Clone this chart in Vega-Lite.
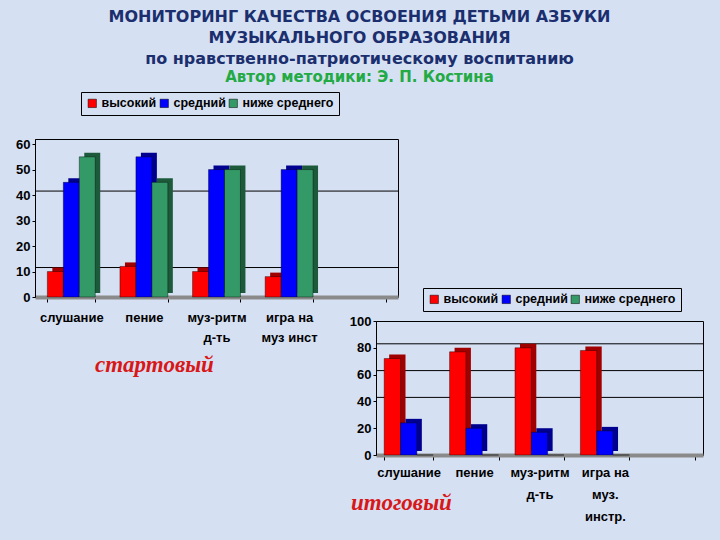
{
  "$schema": "https://vega.github.io/schema/vega-lite/v6.json",
  "background": "#d6e0f3",
  "padding": {"left": 15, "top": 9, "right": 22, "bottom": 22},
  "config": {
    "view": {"stroke": null},
    "font": "Liberation Sans",
    "axis": {"labelFont": "Liberation Sans", "labelFontWeight": "bold", "labelFontSize": 13, "labelColor": "#000", "domainColor": "#000", "tickColor": "#000", "title": null},
    "axisY": {"grid": false, "tickSize": 3, "labelPadding": 2},
    "axisX": {"labelAngle": 0, "tickBand": "extent", "tickSize": 5, "labelPadding": 6, "domainColor": "#8a8a8a", "domainWidth": 4},
    "legend": {"title": null, "orient": "none", "direction": "horizontal", "strokeColor": "#000", "padding": 5, "symbolType": "square", "symbolSize": 70, "symbolStrokeColor": "#000", "symbolStrokeWidth": 0.5, "labelFont": "Liberation Sans", "labelFontWeight": "bold", "labelFontSize": 12.5, "labelColor": "#000", "labelOffset": 3, "columnPadding": 1}
  },
  "title": {
    "text": ["МОНИТОРИНГ КАЧЕСТВА ОСВОЕНИЯ ДЕТЬМИ АЗБУКИ", "МУЗЫКАЛЬНОГО ОБРАЗОВАНИЯ", "по нравственно-патриотическому воспитанию"],
    "subtitle": "Автор методики: Э. П. Костина",
    "font": "DejaVu Sans", "fontSize": 16, "fontWeight": "bold", "color": "#1b2f6e", "lineHeight": 21,
    "subtitleFont": "DejaVu Sans", "subtitleFontSize": 15, "subtitleFontWeight": "bold", "subtitleColor": "#22aa44", "subtitlePadding": 3,
    "anchor": "middle", "frame": "bounds", "offset": 6
  },
  "datasets": {
    "start": [
      {"activity": "слушание", "level": "высокий", "value": 10},
      {"activity": "слушание", "level": "средний", "value": 45},
      {"activity": "слушание", "level": "ниже среднего", "value": 55},
      {"activity": "пение", "level": "высокий", "value": 12},
      {"activity": "пение", "level": "средний", "value": 55},
      {"activity": "пение", "level": "ниже среднего", "value": 45},
      {"activity": "муз-ритм д-ть", "level": "высокий", "value": 10},
      {"activity": "муз-ритм д-ть", "level": "средний", "value": 50},
      {"activity": "муз-ритм д-ть", "level": "ниже среднего", "value": 50},
      {"activity": "игра на муз инст", "level": "высокий", "value": 8},
      {"activity": "игра на муз инст", "level": "средний", "value": 50},
      {"activity": "игра на муз инст", "level": "ниже среднего", "value": 50}
    ],
    "final": [
      {"activity": "слушание", "level": "высокий", "value": 72},
      {"activity": "слушание", "level": "средний", "value": 24},
      {"activity": "слушание", "level": "ниже среднего", "value": 0},
      {"activity": "пение", "level": "высокий", "value": 77},
      {"activity": "пение", "level": "средний", "value": 20},
      {"activity": "пение", "level": "ниже среднего", "value": 0},
      {"activity": "муз-ритм д-ть", "level": "высокий", "value": 80},
      {"activity": "муз-ритм д-ть", "level": "средний", "value": 17},
      {"activity": "муз-ритм д-ть", "level": "ниже среднего", "value": 0},
      {"activity": "игра на муз. инстр.", "level": "высокий", "value": 78},
      {"activity": "игра на муз. инстр.", "level": "средний", "value": 18},
      {"activity": "игра на муз. инстр.", "level": "ниже среднего", "value": 0}
    ],
    "grid1": [{"g": 10}, {"g": 40}],
    "grid2": [{"g": 40}, {"g": 60}, {"g": 80}]
  },
  "vconcat": [
    {
      "width": 363,
      "height": 158,
      "view": {"stroke": "#000", "strokeWidth": 1},
      "title": {"text": "стартовый", "orient": "bottom", "anchor": "start", "frame": "group", "dx": 60, "offset": 10, "font": "Liberation Serif", "fontStyle": "italic", "fontWeight": "bold", "fontSize": 23, "color": "#d81818"},
      "layer": [
        {
          "data": {"name": "grid1"},
          "mark": {"type": "rule", "color": "#000", "strokeWidth": 1, "yOffset": -4},
          "encoding": {"y": {"field": "g", "type": "quantitative", "scale": {"domain": [0, 62], "nice": false}, "axis": {"values": [0, 10, 20, 30, 40, 50, 60]}}}
        },
        {
          "data": {"name": "start"},
          "mark": {"type": "bar", "yOffset": -4},
          "encoding": {
            "x": {"field": "activity", "type": "nominal", "sort": null},
            "xOffset": {"field": "level", "type": "nominal", "sort": null, "scale": {"domain": ["высокий", "средний", "ниже среднего"], "range": [5, 52.9]}},
            "y": {"field": "value", "type": "quantitative", "axis": {"values": [0, 10, 20, 30, 40, 50, 60]}},
            "color": {"field": "level", "type": "nominal", "scale": {"domain": ["высокий", "средний", "ниже среднего"], "range": ["#a00000", "#000090", "#1d5a3b"]}, "legend": null}
          }
        },
        {
          "data": {"name": "start"},
          "mark": {"type": "bar", "stroke": "#000", "strokeWidth": 0.4},
          "encoding": {
            "x": {"field": "activity", "type": "nominal",
              "scale": {"domain": ["слушание", "пение", "муз-ритм д-ть", "игра на муз инст", " "], "paddingInner": 0.34, "paddingOuter": 0.17},
              "sort": null,
              "axis": {"labelLineHeight": 20, "labelPadding": 9,
                "labelExpr": "datum.value == 'муз-ритм д-ть' ? ['муз-ритм', 'д-ть'] : datum.value == 'игра на муз инст' ? ['игра на', 'муз инст'] : datum.value"}},
            "xOffset": {"field": "level", "type": "nominal", "sort": null, "scale": {"domain": ["высокий", "средний", "ниже среднего"]}},
            "y": {"field": "value", "type": "quantitative", "scale": {"domain": [0, 62], "nice": false},
              "axis": {"values": [0, 10, 20, 30, 40, 50, 60]}},
            "color": {"field": "level", "type": "nominal",
              "scale": {"domain": ["высокий", "средний", "ниже среднего"], "range": ["#ff0000", "#0000ff", "#339966"]},
              "legend": {"legendX": 46, "legendY": -47}}
          }
        }
      ],
      "resolve": {"scale": {"color": "independent", "xOffset": "independent"}}
    },
    {
      "hconcat": [
        {
          "width": 341,
          "height": 10,
          "data": {"values": []},
          "mark": {"type": "point", "opacity": 0},
          "view": {"stroke": null}
        },
        {
          "width": 327,
          "height": 134,
          "view": {"stroke": "#000", "strokeWidth": 1},
          "title": {"text": "итоговый", "orient": "bottom", "anchor": "start", "frame": "group", "dx": -25, "dy": -31, "offset": 0, "font": "Liberation Serif", "fontStyle": "italic", "fontWeight": "bold", "fontSize": 23, "color": "#d81818"},
          "layer": [
            {
              "data": {"name": "grid2"},
              "mark": {"type": "rule", "color": "#000", "strokeWidth": 1, "yOffset": -4},
              "encoding": {"y": {"field": "g", "type": "quantitative", "scale": {"domain": [0, 100], "nice": false}, "axis": {"values": [0, 20, 40, 60, 80, 100]}}}
            },
            {
              "data": {"name": "final"},
              "mark": {"type": "bar", "yOffset": -4},
              "encoding": {
                "x": {"field": "activity", "type": "nominal", "sort": null},
                "xOffset": {"field": "level", "type": "nominal", "sort": null, "scale": {"domain": ["высокий", "средний", "ниже среднего"], "range": [5, 54]}},
                "y": {"field": "value", "type": "quantitative", "axis": {"values": [0, 20, 40, 60, 80, 100]}},
                "color": {"field": "level", "type": "nominal", "scale": {"domain": ["высокий", "средний", "ниже среднего"], "range": ["#a00000", "#000090", "#1d5a3b"]}, "legend": null}
              }
            },
            {
              "data": {"name": "final"},
              "mark": {"type": "bar", "stroke": "#000", "strokeWidth": 0.4},
              "encoding": {
                "x": {"field": "activity", "type": "nominal",
                  "scale": {"domain": ["слушание", "пение", "муз-ритм д-ть", "игра на муз. инстр.", " "], "paddingInner": 0.25, "paddingOuter": 0.125},
                  "sort": null,
                  "axis": {"labelLineHeight": 22,
                    "labelExpr": "datum.value == 'муз-ритм д-ть' ? ['муз-ритм', 'д-ть'] : datum.value == 'игра на муз. инстр.' ? ['игра на', 'муз.', 'инстр.'] : datum.value"}},
                "xOffset": {"field": "level", "type": "nominal", "sort": null, "scale": {"domain": ["высокий", "средний", "ниже среднего"]}},
                "y": {"field": "value", "type": "quantitative", "scale": {"domain": [0, 100], "nice": false},
                  "axis": {"values": [0, 20, 40, 60, 80, 100]}},
                "color": {"field": "level", "type": "nominal",
                  "scale": {"domain": ["высокий", "средний", "ниже среднего"], "range": ["#ff0000", "#0000ff", "#339966"]},
                  "legend": {"legendX": 47, "legendY": -33}}
              }
            }
          ],
          "resolve": {"scale": {"color": "independent", "xOffset": "independent"}}
        }
      ],
      "spacing": 0,
      "bounds": "flush"
    }
  ],
  "spacing": 24,
  "bounds": "flush",
  "resolve": {"scale": {"color": "independent"}, "legend": {"color": "independent"}}
}
